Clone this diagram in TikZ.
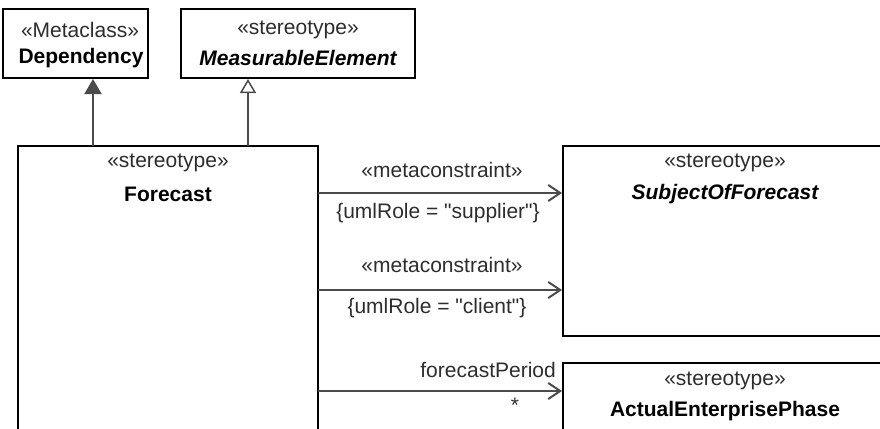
\documentclass[tikz,border=0pt]{standalone}
\usepackage{fontspec}
\setmainfont{Liberation Sans}[Ligatures=TeXOff]
\usetikzlibrary{arrows.meta, positioning}
\definecolor{umlline}{RGB}{75, 75, 75}
\definecolor{umltext}{RGB}{45, 45, 45}
\tikzset{
  umlbox/.style={draw=black, line width=2pt, fill=white, inner sep=0pt},
  umltxt/.style={font=\fontsize{21}{25}\selectfont, text=umltext, inner sep=0pt},
  umlname/.style={font=\fontsize{21}{25}\selectfont\bfseries, text=black, inner sep=0pt},
  umlabs/.style={font=\fontsize{21}{25}\selectfont\bfseries\itshape, text=black, inner sep=0pt},
  assoc/.style={draw=umlline, line width=2pt, -{Straight Barb[length=12pt, width=16pt, line width=2pt]}},
  extn/.style={draw=umlline, line width=2pt, -{Triangle[length=15pt, width=17pt, fill=umlline]}},
  gener/.style={draw=umlline, line width=2pt, -{Triangle[open, length=14pt, width=16pt, line width=1.5pt, fill=white]}}
}

\begin{document}
\begin{tikzpicture}[x=1pt, y=-1pt]
    \useasboundingbox (0,0) rectangle (880,428);
    \clip (0,0) rectangle (880,428);
    % metaclass
    \node[umlbox, minimum width=145pt, minimum height=69pt] (dep) at (75.5,43.5) {};
    \node[umltxt] (depst) at (80,30) {«Metaclass»};
    \node[umlname] (depname) at (81,58) {Dependency};
    % abstract stereotype
    \node[umlbox, minimum width=234pt, minimum height=69pt] (meas) at (298,43.5) {};
    \node[umltxt] (measst) at (298,30) {«stereotype»};
    \node[umlabs] (measname) at (298,58) {MeasurableElement};
    % forecast
    \node[umlbox, minimum width=300pt, minimum height=360pt] (fc) at (168,326) {};
    \node[umltxt] (fcst) at (168,163) {«stereotype»};
    \node[umlname] (fcname) at (168,194) {Forecast};
    % subject
    \node[umlbox, minimum width=324pt, minimum height=190pt] (subj) at (725,241) {};
    \node[umltxt] (subjst) at (725,163) {«stereotype»};
    \node[umlabs] (subjname) at (725,194) {SubjectOfForecast};
    % phase
    \node[umlbox, minimum width=324pt, minimum height=140pt] (phase) at (725,433) {};
    \node[umltxt] (phasest) at (725,381) {«stereotype»};
    \node[umlname] (phasename) at (725,411) {ActualEnterprisePhase};
    % connectors
    \coordinate (d1) at (93,146);
    \coordinate (g1) at (248,146);
    \draw[extn] (d1) -- (d1 |- dep.south);
    \draw[gener] (g1) -- (g1 |- meas.south);
    \coordinate (m1) at (318,193);
    \coordinate (m2) at (318,290);
    \coordinate (p1) at (318,391);
    \draw[assoc] (m1) -- (m1 -| subj.west);
    \draw[assoc] (m2) -- (m2 -| subj.west);
    \draw[assoc] (p1) -- (p1 -| phase.west);
    % labels
    \node[umltxt] (m1st) at (442,170) {«metaconstraint»};
    \node[umltxt] (m1role) at (438,213) {\{umlRole = "supplier"\}};
    \node[umltxt] (m2st) at (442,265) {«metaconstraint»};
    \node[umltxt] (m2role) at (437,308) {\{umlRole = "client"\}};
    \node[umltxt, anchor=east] (p1role) at (556,370) {forecastPeriod};
    \node[umltxt] (p1mult) at (515,405) {*};
  \end{tikzpicture}
\end{document}
